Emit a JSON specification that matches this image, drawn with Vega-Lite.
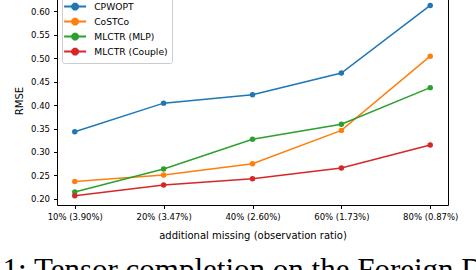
{
  "$schema": "https://vega.github.io/schema/vega-lite/v6.json",
  "width": 391,
  "height": 209,
  "autosize": {"type": "none"},
  "padding": {"left": 57, "top": -4, "right": 28, "bottom": 65},
  "background": "white",
  "title": {
    "text": "1: Tensor completion on the Foreign D",
    "orient": "bottom",
    "anchor": "start",
    "frame": "bounds",
    "font": "Liberation Serif",
    "fontSize": 31,
    "fontWeight": "normal",
    "color": "black",
    "offset": 16,
    "dx": -12
  },
  "config": {
    "font": "DejaVu Sans",
    "view": {"stroke": "black", "strokeWidth": 1},
    "axis": {
      "grid": false,
      "domain": false,
      "tickColor": "black",
      "tickSize": 3.5,
      "labelFont": "DejaVu Sans",
      "labelFontSize": 8.5,
      "labelColor": "black",
      "labelPadding": 4,
      "titleFont": "DejaVu Sans",
      "titleFontSize": 10,
      "titleFontWeight": "normal",
      "titleColor": "black"
    }
  },
  "data": {
    "values": [
      {"x": "10% (3.90%)", "method": "CPWOPT", "rmse": 0.343},
      {"x": "20% (3.47%)", "method": "CPWOPT", "rmse": 0.404},
      {"x": "40% (2.60%)", "method": "CPWOPT", "rmse": 0.422},
      {"x": "60% (1.73%)", "method": "CPWOPT", "rmse": 0.468},
      {"x": "80% (0.87%)", "method": "CPWOPT", "rmse": 0.612},
      {"x": "10% (3.90%)", "method": "CoSTCo", "rmse": 0.237},
      {"x": "20% (3.47%)", "method": "CoSTCo", "rmse": 0.251},
      {"x": "40% (2.60%)", "method": "CoSTCo", "rmse": 0.275},
      {"x": "60% (1.73%)", "method": "CoSTCo", "rmse": 0.346},
      {"x": "80% (0.87%)", "method": "CoSTCo", "rmse": 0.504},
      {"x": "10% (3.90%)", "method": "MLCTR (MLP)", "rmse": 0.215},
      {"x": "20% (3.47%)", "method": "MLCTR (MLP)", "rmse": 0.264},
      {"x": "40% (2.60%)", "method": "MLCTR (MLP)", "rmse": 0.327},
      {"x": "60% (1.73%)", "method": "MLCTR (MLP)", "rmse": 0.359},
      {"x": "80% (0.87%)", "method": "MLCTR (MLP)", "rmse": 0.437},
      {"x": "10% (3.90%)", "method": "MLCTR (Couple)", "rmse": 0.207},
      {"x": "20% (3.47%)", "method": "MLCTR (Couple)", "rmse": 0.230},
      {"x": "40% (2.60%)", "method": "MLCTR (Couple)", "rmse": 0.243},
      {"x": "60% (1.73%)", "method": "MLCTR (Couple)", "rmse": 0.266},
      {"x": "80% (0.87%)", "method": "MLCTR (Couple)", "rmse": 0.315}
    ]
  },
  "encoding": {
    "x": {
      "field": "x",
      "type": "ordinal",
      "sort": null,
      "scale": {"type": "point", "padding": 0.2},
      "axis": {"title": "additional missing (observation ratio)", "labelAngle": 0, "titlePadding": 9}
    },
    "y": {
      "field": "rmse",
      "type": "quantitative",
      "scale": {"domain": [0.1872, 0.632], "nice": false, "zero": false},
      "axis": {"title": "RMSE", "values": [0.2, 0.25, 0.3, 0.35, 0.4, 0.45, 0.5, 0.55, 0.6], "format": ".2f", "titlePadding": 6}
    },
    "color": {
      "field": "method",
      "type": "nominal",
      "sort": ["CPWOPT", "CoSTCo", "MLCTR (MLP)", "MLCTR (Couple)"],
      "scale": {"domain": ["CPWOPT", "CoSTCo", "MLCTR (MLP)", "MLCTR (Couple)"], "range": ["#1f77b4", "#ff7f0e", "#2ca02c", "#d62728"]},
      "legend": {
        "title": null,
        "orient": "none",
        "legendX": 5,
        "legendY": 2,
        "padding": 4,
        "fillColor": "white",
        "strokeColor": "#cccccc",
        "cornerRadius": 2,
        "labelFont": "DejaVu Sans",
        "labelFontSize": 9.2,
        "labelColor": "black",
        "labelOffset": 14.5,
        "symbolOffset": 4.5,
        "symbolType": "M-3.14,0L3.14,0M0.795,0.329L0.329,0.795L-0.329,0.795L-0.795,0.329L-0.795,-0.329L-0.329,-0.795L0.329,-0.795L0.795,-0.329Z",
        "symbolSize": 49,
        "symbolStrokeWidth": 2,
        "rowPadding": 0,
        "encode": {
          "symbols": {"update": {"fill": {"scale": "color", "field": "value"}, "fillOpacity": {"value": 1}}}
        }
      }
    }
  },
  "layer": [
    {"mark": {"type": "line", "strokeWidth": 1.5}},
    {"mark": {"type": "point", "filled": true, "size": 30, "opacity": 1}}
  ]
}
